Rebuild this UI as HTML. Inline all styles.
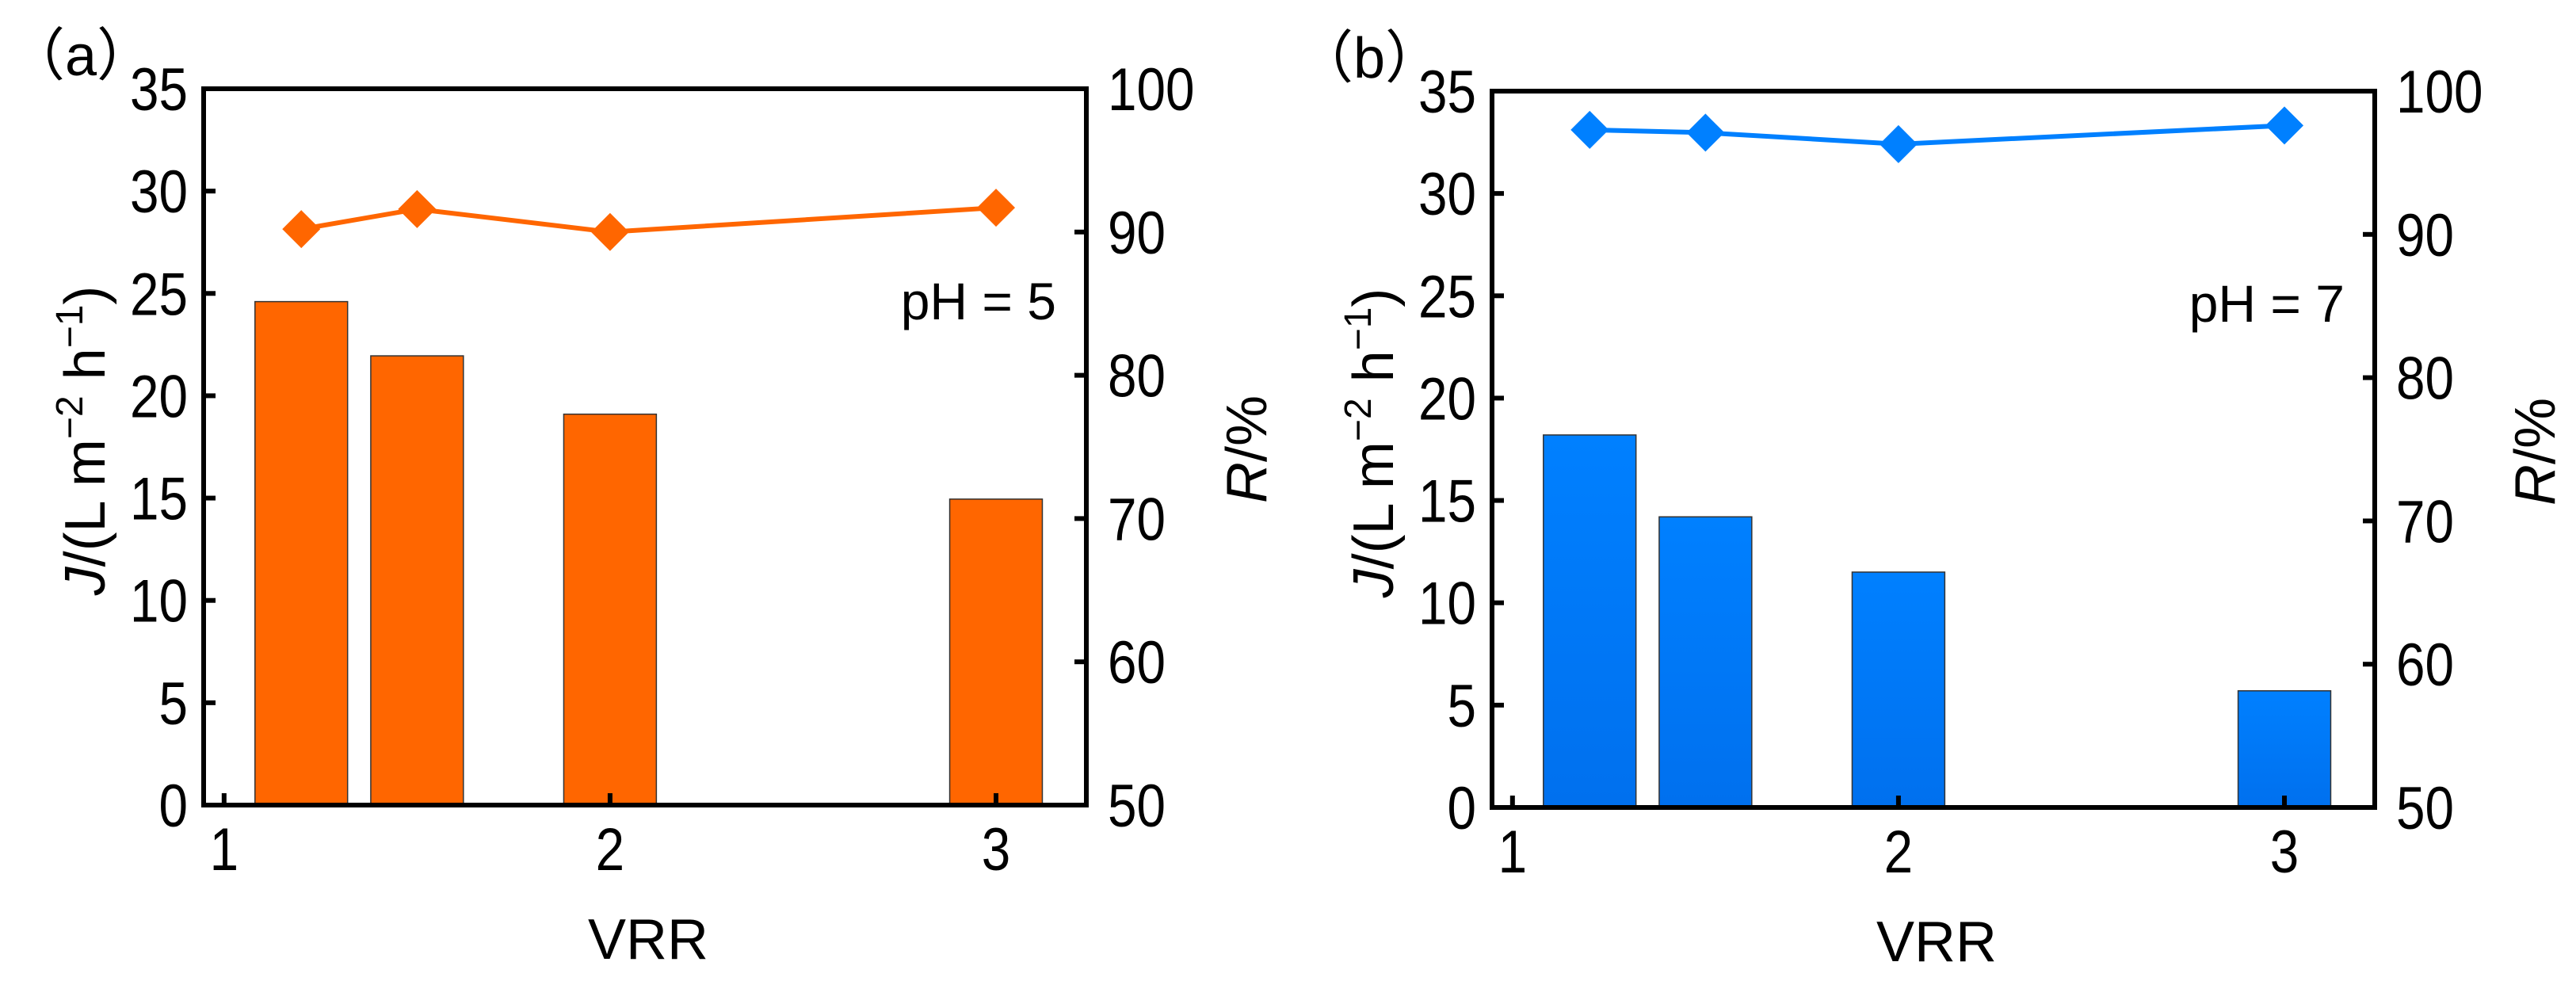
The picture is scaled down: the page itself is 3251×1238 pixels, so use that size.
<!DOCTYPE html>
<html><head><meta charset="utf-8"><style>
html,body{margin:0;padding:0;background:#fff;}
svg{display:block;font-family:"Liberation Sans","Noto Sans CJK SC",sans-serif;}
</style></head>
<body>
<svg id="chart" width="3251" height="1238" viewBox="0 0 3251 1238" xmlns="http://www.w3.org/2000/svg"></svg>
<script>
const vrr = [1.2, 1.5, 2.0, 3.0];
const fluxA = [24.6, 21.95, 19.1, 14.95];
const rejA = [90.2, 91.6, 90.0, 91.7];
const fluxB = [18.2, 14.2, 11.5, 5.7];
const rejB = [97.3, 97.1, 96.3, 97.6];
const jTicks = [0, 5, 10, 15, 20, 25, 30, 35];
const rTicks = [50, 60, 70, 80, 90, 100];
const xTicks = [1, 2, 3];

const NS = "http://www.w3.org/2000/svg";
const svg = document.getElementById('chart');
function mk(tag, attrs, parent, text){
  const e = document.createElementNS(NS, tag);
  for (const k in attrs) e.setAttribute(k, attrs[k]);
  if (text !== undefined) e.textContent = text;
  (parent || svg).appendChild(e);
  return e;
}
function numText(g, x, y, anchor, v){
  const s = String(v);
  return mk('text', {x:x, y:y, 'text-anchor':anchor, 'font-size':76, textLength:s.length * 36.5, lengthAdjust:'spacingAndGlyphs'}, g, s);
}

function panel(ox, oy, flux, rej, color, dark, label, ph, key){
  const g = mk('g', {transform:`translate(${ox},${oy})`});
  
  
  const L = 257, R = 1371, T = 112, B = 1016;
  const xMin = 0.947, xMax = 3.234;
  const xs = v => L + (v - xMin) / (xMax - xMin) * (R - L);
  const yJ = v => B - v / 35 * (B - T);
  const yR = v => B - (v - 50) / 50 * (B - T);
  const bw = 0.24 * (R - L) / (xMax - xMin);

  const gid = 'grad-' + key;
  const defs = mk('defs', {}, g);
  const lg = mk('linearGradient', {id:gid, x1:0, y1:0, x2:0, y2:1}, defs);
  mk('stop', {offset:'0', 'stop-color':color}, lg);
  mk('stop', {offset:'1', 'stop-color':dark}, lg);

  flux.forEach((v, i) => {
    const r = mk('rect', {x:xs(vrr[i]) - bw/2, y:yJ(v), width:bw, height:B - yJ(v), fill:`url(#${gid})`, stroke:'#333', 'stroke-width':1.5}, g);
    
    
  });
  const pts = rej.map((v, i) => xs(vrr[i]) + ',' + yR(v)).join(' ');
  const pl = mk('polyline', {points:pts, fill:'none', stroke:color, 'stroke-width':6}, g);
  
  
  rej.forEach((v, i) => {
    const cx = xs(vrr[i]), cy = yR(v), d = 24;
    const p = mk('polygon', {points:`${cx},${cy-d} ${cx+d},${cy} ${cx},${cy+d} ${cx-d},${cy}`, fill:color}, g);
    
    
  });
  const fr = mk('rect', {x:L, y:T, width:R - L, height:B - T, fill:'none', stroke:'#000', 'stroke-width':6}, g);
  
  
  jTicks.forEach(v => {
    mk('line', {x1:L, x2:L + 15, y1:yJ(v), y2:yJ(v), stroke:'#000', 'stroke-width':6}, g);
    const t = numText(g, 237, yJ(v) + 27, 'end', v);
    
    
  });
  rTicks.forEach(v => {
    mk('line', {x1:R - 15, x2:R, y1:yR(v), y2:yR(v), stroke:'#000', 'stroke-width':6}, g);
    const t = numText(g, 1398, yR(v) + 27, 'start', v);
    
    
  });
  xTicks.forEach(v => {
    mk('line', {x1:xs(v), x2:xs(v), y1:B, y2:B - 15, stroke:'#000', 'stroke-width':6}, g);
    const t = numText(g, xs(v), 1098, 'middle', v);
    
    
  });
  const xt = mk('text', {x:818, y:1210, 'text-anchor':'middle', 'font-size':72}, g, 'VRR');
  
  
  const yt = mk('text', {transform:'translate(132,556) rotate(-90)', 'text-anchor':'middle', 'font-size':72}, g);
  
  
  mk('tspan', {'font-style':'italic'}, yt, 'J');
  mk('tspan', {}, yt, '/(L m');
  mk('tspan', {dy:-28, 'font-size':48}, yt, '\u22122');
  mk('tspan', {dy:28}, yt, ' h');
  mk('tspan', {dy:-28, 'font-size':48}, yt, '\u22121');
  mk('tspan', {dy:28}, yt, ')');
  const rt = mk('text', {transform:'translate(1598,567) rotate(-90)', 'text-anchor':'middle', 'font-size':72}, g);
  
  
  mk('tspan', {'font-style':'italic'}, rt, 'R');
  mk('tspan', {}, rt, '/%');
  const pt = mk('text', {x:1333, y:403, 'text-anchor':'end', 'font-size':66}, g, ph);
  
  
  const lb = mk('text', {x:10, y:95, 'font-size':72}, g, label);
  
  
}
panel(0, 0, fluxA, rejA, '#FF6600', '#FF6600', '（a）', 'pH = 5', 'a');
panel(1626, 3, fluxB, rejB, '#0080FF', '#0070EE', '（b）', 'pH = 7', 'b');
</script>
</body></html>
